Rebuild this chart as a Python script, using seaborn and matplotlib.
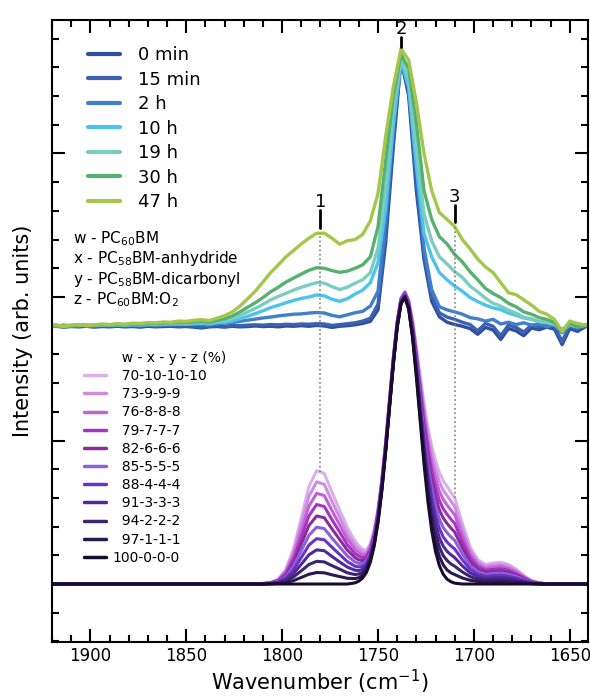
import numpy as np
import pandas as pd
import matplotlib
matplotlib.use("Agg")
import matplotlib.pyplot as plt
import seaborn as sns
from matplotlib.lines import Line2D
from matplotlib.ticker import MultipleLocator

# ---- measured spectra (upper stack), one point every 4 cm-1 from 1922 down to 1638
wn_meas = np.arange(1922, 1636, -4)
times = ["0 min", "15 min", "2 h", "10 h", "19 h", "30 h", "47 h"]
time_colors = ["#2f4f9e", "#3a62b0", "#3f7fcc", "#4cc3ea", "#7dccc2", "#56b06f", "#a5c64b"]

t_0min = [-.004, -.002, -.005, -.003, -.004, -.002, -.005, -.003,
          -.004, -.002, -.004, -.003, -.005, -.002, -.004, -.003,
          -.002, -.004, -.003, -.005, -.008, -.004, -.003, -.005,
          -.002, -.004, -.003, -.001, -.003, -.002, -.004, -.001,
          -.002, .000, -.002, .001, -.001, -.006, -.002, .000,
          .003, .008, .015, .055, .290, .624, .927, .800,
          .470, .230, .085, .031, .012, .004, -.002, -.010,
          -.030, -.006, -.015, -.048, -.010, -.018, -.035, -.008,
          -.014, -.005, -.012, -.066, -.010, -.020, -.004, -.002]
t_15min = [-.001, .001, -.002, .000, -.001, .001, -.002, .000,
           -.001, .001, -.001, .000, -.002, .001, -.001, .000,
           .001, -.001, .000, -.002, -.005, -.001, .000, -.002,
           .001, .000, .002, .003, .002, .004, .003, .005,
           .004, .006, .005, .007, .006, .001, .004, .007,
           .010, .016, .026, .075, .320, .650, .930, .815,
           .505, .245, .100, .045, .030, .022, .012, .004,
           -.018, .008, -.002, -.035, .002, -.006, -.022, .002,
           -.004, .004, -.002, -.055, .000, -.012, .002, .000]
t_2h = [.000, -.002, .001, -.001, .001, .000, -.002, .001,
        .000, .002, .000, .002, .001, .003, .001, .003,
        .004, .003, .005, .004, .006, .002, .007, .009,
        .011, .015, .019, .023, .027, .030, .034, .037,
        .040, .041, .044, .046, .044, .036, .031, .038,
        .045, .050, .068, .120, .370, .690, .925, .830,
        .550, .270, .125, .066, .055, .048, .040, .028,
        .024, .016, .022, .006, .012, .004, .010, .002,
        .006, -.004, .003, -.025, .002, -.008, .000, .001]
t_10h = [.000, .001, -.001, .000, .002, .000, .001, .002,
         .001, .003, .002, .003, .002, .004, .003, .005,
         .005, .006, .005, .007, .008, .006, .010, .012,
         .016, .024, .033, .042, .052, .063, .071, .080,
         .088, .095, .100, .107, .104, .092, .085, .094,
         .110, .124, .150, .220, .410, .700, .925, .830,
         .560, .320, .240, .185, .160, .138, .120, .098,
         .084, .072, .062, .056, .044, .036, .027, .022,
         .014, .010, .004, -.012, .002, -.004, .001, .000]
t_19h = [.001, .000, -.002, .001, .000, .002, .001, .003,
         .002, .004, .003, .005, .004, .006, .005, .007,
         .008, .009, .008, .011, .012, .010, .015, .018,
         .024, .036, .048, .060, .074, .090, .102, .113,
         .124, .134, .142, .150, .148, .136, .126, .134,
         .148, .160, .185, .270, .480, .760, .930, .860,
         .615, .390, .295, .240, .215, .188, .168, .138,
         .118, .096, .078, .068, .054, .044, .030, .024,
         .015, .012, .006, -.018, .004, -.003, .002, .001]
t_30h = [.000, -.002, .002, .000, .003, .001, .002, .004,
         .002, .005, .004, .006, .005, .008, .007, .009,
         .010, .012, .011, .014, .015, .012, .019, .024,
         .034, .048, .064, .080, .098, .118, .134, .152,
         .166, .180, .193, .202, .200, .192, .186, .190,
         .200, .212, .240, .345, .575, .800, .945, .895,
         .705, .470, .370, .310, .285, .248, .222, .188,
         .160, .130, .112, .098, .078, .066, .048, .040,
         .028, .022, .012, -.022, .008, -.004, .003, .002]
t_47h = [.000, .003, -.002, .002, .004, .000, .003, .006,
         .004, .007, .005, .009, .008, .011, .010, .013,
         .012, .016, .015, .019, .021, .018, .026, .035,
         .048, .068, .094, .120, .152, .185, .212, .240,
         .262, .285, .305, .322, .322, .305, .284, .296,
         .300, .318, .365, .460, .660, .833, .965, .925,
         .777, .600, .470, .394, .370, .345, .300, .268,
         .232, .205, .185, .150, .115, .108, .090, .072,
         .050, .040, .022, -.020, .016, .008, .002, .004]
measured = [t_0min, t_15min, t_2h, t_10h, t_19h, t_30h, t_47h]

# ---- mixture spectra (lower stack)
wn_mix = np.concatenate([[1922], np.arange(1822, 1761, -4), np.arange(1760, 1709, -2),
                         np.arange(1706, 1661, -4), [1638]])
mixes = ["70-10-10-10", "73-9-9-9", "76-8-8-8", "79-7-7-7", "82-6-6-6", "85-5-5-5",
         "88-4-4-4", "91-3-3-3", "94-2-2-2", "97-1-1-1", "100-0-0-0"]
mix_colors = ["#dab0e8", "#cf8ce0", "#bf62d6", "#a733c6", "#8b2b98", "#8a62d8",
              "#6a33c8", "#51299c", "#3d2470", "#2a1850", "#190b2e"]

m70 = [0, 0, 0, .001, .002, .005, .017, .052, .124, .231,
       .340, .395, .385, .320, .258, .196, .150, .134, .121, .118,
       .140, .187, .262, .367, .497, .645, .792, .917, .998, 1.020,
       .990, .920, .826, .725, .628, .546, .480, .430, .388, .360,
       .340, .320, .300, .210, .130, .085, .068, .073, .076, .068,
       .052, .030, .012, .004, .001, 0]
m73 = [0, 0, 0, .001, .002, .005, .015, .047, .112, .208,
       .306, .356, .347, .288, .232, .176, .135, .122, .111, .110,
       .134, .182, .257, .363, .493, .642, .789, .915, .996, 1.018,
       .987, .914, .816, .709, .607, .520, .451, .398, .356, .327,
       .308, .289, .270, .189, .117, .077, .061, .066, .068, .061,
       .047, .027, .011, .004, .001, 0]
m76 = [0, 0, 0, .001, .002, .004, .014, .042, .099, .185,
       .272, .316, .308, .256, .206, .157, .121, .109, .101, .103,
       .127, .176, .252, .359, .490, .639, .787, .912, .994, 1.016,
       .983, .908, .805, .693, .586, .494, .421, .367, .323, .295,
       .275, .258, .241, .168, .104, .068, .054, .058, .061, .054,
       .042, .024, .010, .003, .001, 0]
m79 = [0, 0, 0, .001, .001, .004, .012, .036, .087, .162,
       .238, .277, .270, .224, .181, .137, .106, .097, .091, .095,
       .121, .171, .248, .354, .486, .636, .784, .910, .991, 1.013,
       .980, .901, .795, .678, .565, .469, .392, .335, .291, .262,
       .243, .226, .211, .147, .091, .060, .048, .051, .053, .048,
       .036, .021, .008, .003, .001, 0]
m82 = [0, 0, 0, .001, .001, .003, .010, .031, .074, .139,
       .204, .237, .231, .192, .155, .118, .092, .084, .081, .087,
       .114, .165, .243, .350, .483, .633, .781, .907, .989, 1.011,
       .977, .895, .784, .662, .544, .443, .362, .303, .258, .230,
       .211, .195, .181, .126, .078, .051, .041, .044, .046, .041,
       .031, .018, .007, .002, .001, 0]
m85 = [0, 0, 0, 0, .001, .003, .009, .026, .062, .116,
       .170, .198, .193, .160, .129, .098, .077, .072, .071, .080,
       .108, .160, .238, .346, .479, .630, .779, .905, .987, 1.009,
       .974, .889, .774, .646, .523, .417, .333, .272, .226, .197,
       .179, .164, .152, .105, .065, .043, .034, .037, .038, .034,
       .026, .015, .006, .002, 0, 0]
m88 = [0, 0, 0, 0, .001, .002, .007, .021, .050, .092,
       .136, .158, .154, .128, .103, .078, .062, .060, .061, .072,
       .102, .154, .233, .342, .475, .626, .776, .903, .985, 1.007,
       .970, .883, .763, .630, .502, .391, .304, .240, .194, .164,
       .146, .133, .122, .084, .052, .034, .027, .029, .030, .027,
       .021, .012, .005, .002, 0, 0]
m91 = [0, 0, 0, 0, .001, .002, .005, .016, .037, .069,
       .102, .119, .116, .096, .077, .059, .048, .047, .051, .064,
       .095, .149, .228, .338, .472, .623, .773, .900, .983, 1.005,
       .967, .877, .753, .614, .481, .365, .274, .208, .161, .132,
       .114, .102, .092, .063, .039, .026, .020, .022, .023, .020,
       .016, .009, .004, .001, 0, 0]
m94 = [0, 0, 0, 0, 0, .001, .003, .010, .025, .046,
       .068, .079, .077, .064, .052, .039, .033, .035, .041, .056,
       .089, .143, .224, .333, .468, .620, .770, .898, .980, 1.002,
       .964, .870, .742, .599, .460, .340, .245, .176, .129, .099,
       .082, .070, .062, .042, .026, .017, .014, .015, .015, .014,
       .010, .006, .002, .001, 0, 0]
m97 = [0, 0, 0, 0, 0, .001, .002, .005, .012, .023,
       .034, .040, .039, .032, .026, .020, .019, .022, .031, .049,
       .082, .138, .219, .329, .465, .617, .768, .895, .978, 1.000,
       .960, .864, .732, .583, .439, .314, .215, .145, .096, .067,
       .049, .039, .033, .021, .013, .009, .007, .007, .008, .007,
       .005, .003, .001, 0, 0, 0]
m100 = [0, 0, 0, 0, 0, 0, 0, 0, 0, 0,
        0, 0, 0, 0, 0, 0, .004, .010, .021, .041,
        .076, .132, .214, .325, .461, .614, .765, .893, .976, .998,
        .957, .858, .721, .567, .418, .288, .186, .113, .064, .034,
        .017, .008, .003, 0, 0, 0, 0, 0, 0, 0,
        0, 0, 0, 0, 0, 0]
mixtures = [m70, m73, m76, m79, m82, m85, m88, m91, m94, m97, m100]

species = [r"w - PC$_{60}$BM", r"x - PC$_{58}$BM-anhydride",
           r"y - PC$_{58}$BM-dicarbonyl", r"z - PC$_{60}$BM:O$_2$"]
peaks = [("1", 1780), ("2", 1738), ("3", 1710)]

OFFSET = 0.9  # vertical shift of the measured stack

df_meas = pd.concat([pd.DataFrame({"wavenumber": wn_meas, "intensity": np.array(v) + OFFSET, "time": t})
                     for t, v in zip(times, measured)], ignore_index=True)
df_mix = pd.concat([pd.DataFrame({"wavenumber": wn_mix, "intensity": v, "mix": m})
                    for m, v in zip(mixes, mixtures)], ignore_index=True)

sns.set_style("ticks", {"axes.edgecolor": "black", "xtick.color": "black", "ytick.color": "black",
                        "text.color": "black", "axes.labelcolor": "black"})
plt.rcParams["font.family"] = ["DejaVu Sans"]
plt.rcParams["mathtext.default"] = "regular"

fig = plt.figure(figsize=(5.9, 6.97), dpi=100)
ax = fig.add_axes([52 / 590, 1 - 642 / 697, 536 / 590, 622 / 697])

sns.lineplot(data=df_meas, x="wavenumber", y="intensity", hue="time", hue_order=times,
             palette=time_colors, lw=2.4, sort=False, estimator=None, legend=False, ax=ax)
sns.lineplot(data=df_mix, x="wavenumber", y="intensity", hue="mix", hue_order=mixes,
             palette=mix_colors, lw=2.2, sort=False, estimator=None, legend=False, ax=ax)

# peak markers and guide lines
top = np.array(t_47h) + OFFSET
for (lab, pos), gap, length in zip(peaks, [0.018, 0.006, 0.015], [0.063, 0.035, 0.06]):
    y_top = np.interp(pos, wn_meas[::-1], top[::-1])
    ax.plot([pos, pos], [y_top + gap, y_top + gap + length], color="black", lw=2)
    ax.text(pos, y_top + gap + length + 0.01, lab, ha="center", va="baseline", fontsize=13)
    if lab != "2":
        y_low = np.interp(pos, wn_mix[::-1], np.array(m70)[::-1])
        ax.plot([pos, pos], [y_low, y_top], color="grey", lw=1.2, ls=":")

ax.set_xlim(1920, 1640.5)
ax.set_ylim(-0.202, 1.965)
ax.xaxis.set_major_locator(MultipleLocator(50))
ax.xaxis.set_minor_locator(MultipleLocator(10))
ax.yaxis.set_major_locator(MultipleLocator(0.5))
ax.yaxis.set_minor_locator(MultipleLocator(0.1))
ax.tick_params(which="both", direction="in", top=True, right=True, width=1.5, labelleft=False,
               color="black", labelcolor="black")
ax.tick_params(which="major", length=9.5, labelsize=12)
ax.tick_params(which="minor", length=5)
for s in ax.spines.values():
    s.set_linewidth(1.5)
    s.set_color("black")
ax.set_xlabel("Wavenumber (cm$^{-1}$)", fontsize=15, labelpad=2)
ax.set_ylabel("Intensity (arb. units)", fontsize=15, labelpad=14)

h1 = [Line2D([], [], color=c, lw=3) for c in time_colors]
leg1 = ax.legend(h1, times, loc="upper left", bbox_to_anchor=(0.067, 0.958), frameon=False,
                 fontsize=13, handlelength=1.8, handletextpad=1.0, labelspacing=0.36,
                 borderpad=0, borderaxespad=0)
ax.add_artist(leg1)

for i, s in enumerate(species):
    ax.text(0.039, 0.649 - i * 0.033, s, transform=ax.transAxes, fontsize=11, va="center")

h2 = [Line2D([], [], ls="none")] + [Line2D([], [], color=c, lw=2.5) for c in mix_colors]
lab2 = ["  w - x - y - z (%)"] + [("  " + m if len(m.split("-")[0]) == 2 else m) for m in mixes]
ax.legend(h2, lab2, loc="upper left", bbox_to_anchor=(0.06, 0.468), frameon=False,
          fontsize=10, handlelength=1.6, handletextpad=0.45, labelspacing=0.3,
          borderpad=0, borderaxespad=0)

fig.savefig("out.png", dpi=100)
